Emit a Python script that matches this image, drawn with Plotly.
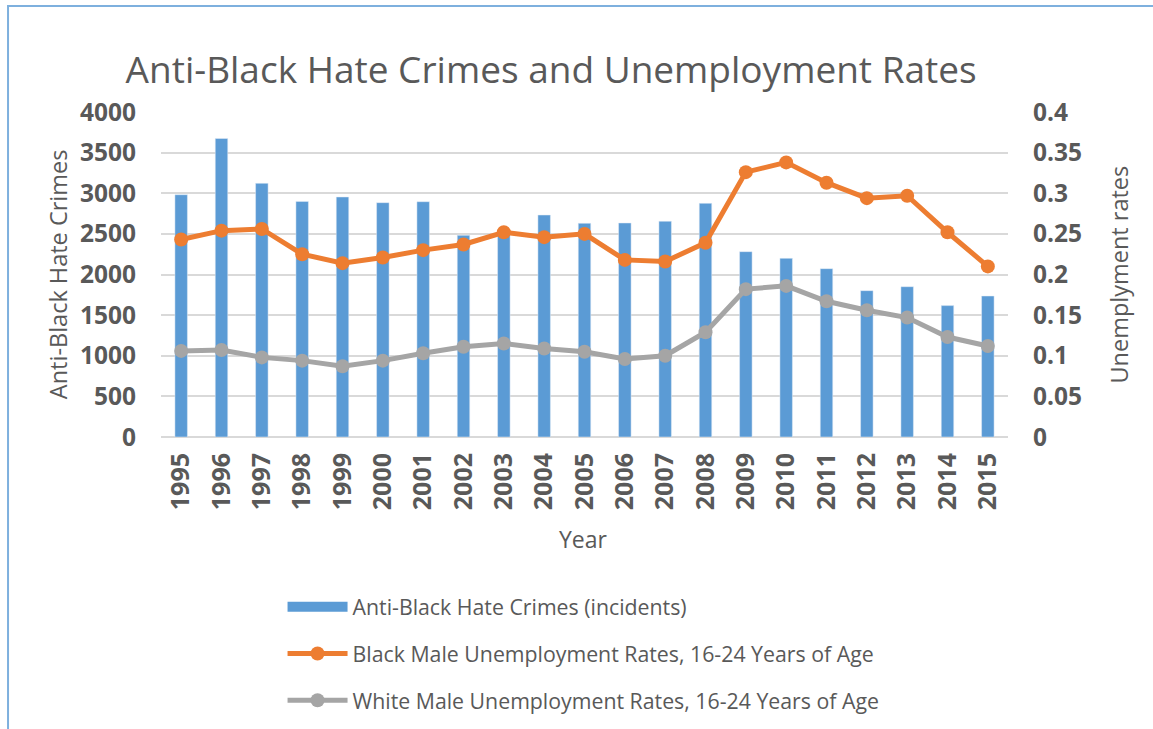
import plotly.graph_objects as go

years = [str(y) for y in range(1995, 2016)]
hate_crimes = [2982, 3674, 3122, 2900, 2954, 2884, 2896, 2482, 2548, 2732, 2630,
               2634, 2655, 2876, 2281, 2199, 2072, 1801, 1850, 1617, 1735]
black_male_rate = [0.243, 0.254, 0.256, 0.225, 0.214, 0.221, 0.230, 0.237, 0.252, 0.246, 0.250,
                   0.218, 0.216, 0.239, 0.326, 0.338, 0.313, 0.294, 0.297, 0.252, 0.210]
white_male_rate = [0.106, 0.107, 0.098, 0.094, 0.087, 0.094, 0.103, 0.111, 0.115, 0.109, 0.105,
                   0.096, 0.100, 0.129, 0.182, 0.186, 0.167, 0.156, 0.147, 0.123, 0.112]

left_ticks = [0, 500, 1000, 1500, 2000, 2500, 3000, 3500, 4000]
right_ticks = [0, 0.05, 0.1, 0.15, 0.2, 0.25, 0.3, 0.35, 0.4]
right_tick_text = ["0", "0.05", "0.1", "0.15", "0.2", "0.25", "0.3", "0.35", "0.4"]

BLUE = "#5B9BD5"
ORANGE = "#ED7D31"
GRAY = "#A5A5A5"
TEXT = "#595959"
GRID = "#D9D9D9"
FONT = "Open Sans"

fig = go.Figure()

fig.add_trace(go.Bar(
    x=years, y=hate_crimes, width=0.31, marker_color=BLUE,
    name="Anti-Black Hate Crimes (incidents)", showlegend=False,
))
# wide swatch for the bar series in the legend
fig.add_trace(go.Scatter(
    x=[None], y=[None], mode="lines", line=dict(color=BLUE, width=14),
    name="Anti-Black Hate Crimes (incidents)", legendgroup="a",
))
fig.add_trace(go.Scatter(
    x=years, y=black_male_rate, yaxis="y2", mode="lines+markers",
    line=dict(color=ORANGE, width=5), marker=dict(color=ORANGE, size=14),
    name="Black Male Unemployment Rates, 16-24 Years of Age", legendgroup="b",
))
fig.add_trace(go.Scatter(
    x=years, y=white_male_rate, yaxis="y2", mode="lines+markers",
    line=dict(color=GRAY, width=5), marker=dict(color=GRAY, size=14),
    name="White Male Unemployment Rates, 16-24 Years of Age", legendgroup="c",
))

fig.update_layout(
    width=1153, height=729,
    margin=dict(l=161, r=145, t=112, b=292, autoexpand=False),
    paper_bgcolor="white", plot_bgcolor="white",
    font=dict(family=FONT, color=TEXT),
    title=dict(text="Anti-Black Hate Crimes and Unemployment Rates",
               font=dict(size=37, color=TEXT, family=FONT),
               x=0.478, xref="container", xanchor="center",
               y=0.904, yref="container", yanchor="middle"),
    xaxis=dict(type="category", range=[-0.5, len(years) - 0.5],
               tickangle=-90, showgrid=False, automargin=False,
               tickfont=dict(size=25, color=TEXT, family=FONT, weight="bold"),
               ticks="", ticklabelstandoff=10),
    yaxis=dict(range=[0, 4000], tickvals=left_ticks, showgrid=True, gridcolor=GRID,
               gridwidth=1.5, zeroline=True, zerolinecolor=GRID, zerolinewidth=1.5,
               automargin=False,
               tickfont=dict(size=24.5, color=TEXT, family=FONT, weight="bold"),
               ticklabelstandoff=24),
    yaxis2=dict(range=[0, 0.4], tickvals=right_ticks, ticktext=right_tick_text,
                overlaying="y", side="right", showgrid=False, zeroline=False,
                automargin=False,
                tickfont=dict(size=24.5, color=TEXT, family=FONT, weight="bold"),
                ticklabelstandoff=24),
    legend=dict(x=0.1435, xanchor="left", y=-0.46, yanchor="top",
                font=dict(size=21.3, color=TEXT, family=FONT),
                tracegroupgap=16, itemwidth=60, bgcolor="rgba(0,0,0,0)"),
    annotations=[
        dict(text="Anti-Black Hate Crimes", xref="paper", yref="paper",
             x=-0.122, y=0.50, xanchor="center", yanchor="middle",
             textangle=-90, showarrow=False,
             font=dict(size=23.5, color=TEXT, family=FONT)),
        dict(text="Unemplyment rates", xref="paper", yref="paper",
             x=1.13, y=0.50, xanchor="center", yanchor="middle",
             textangle=-90, showarrow=False,
             font=dict(size=23.5, color=TEXT, family=FONT)),
        dict(text="Year", xref="paper", yref="paper",
             x=0.4988, y=-0.314, xanchor="center", yanchor="middle",
             showarrow=False,
             font=dict(size=23, color=TEXT, family=FONT)),
    ],
    shapes=[
        dict(type="rect", xref="paper", yref="paper",
             x0=-0.1806, x1=1.3, y0=-1.2, y1=1.326,
             line=dict(color="#7EB0DE", width=2), fillcolor="rgba(0,0,0,0)",
             layer="below"),
    ],
)

fig.write_html("out.html")
